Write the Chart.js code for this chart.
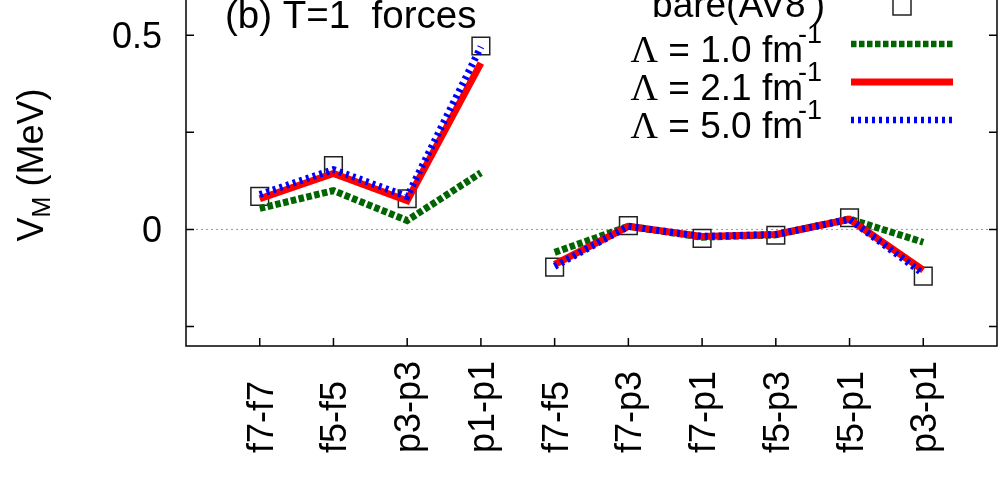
<!DOCTYPE html>
<html>
<head>
<meta charset="utf-8">
<script src="https://cdn.jsdelivr.net/npm/chart.js@4/dist/chart.umd.min.js"></script>
<style>
html, body { margin: 0; padding: 0; background: #fff; overflow: hidden; }
/* the figure is cropped at the top, so the canvas is shifted up */
#wrap { position: absolute; left: 0; top: -80px; width: 1000px; height: 566px; }
</style>
</head>
<body>
<div id="wrap"><canvas id="chart" width="1000" height="566"></canvas></div>
<script>
// ---- data ----
const categories = ['f7-f7', 'f5-f5', 'p3-p3', 'p1-p1', 'f7-f5', 'f7-p3', 'f7-p1', 'f5-p3', 'f5-p1', 'p3-p1'];
const bare  = [0.085, 0.164, 0.079, 0.472, -0.097, 0.010, -0.023, -0.015, 0.030, -0.120];
const lam10 = [0.054, 0.100, 0.023, 0.146, -0.059, 0.008, -0.020, -0.014, 0.027, -0.033];
const lam21 = [0.079, 0.144, 0.074, 0.428, -0.090, 0.008, -0.018, -0.013, 0.026, -0.105];
const lam50 = [0.090, 0.154, 0.085, 0.470, -0.095, 0.008, -0.018, -0.013, 0.026, -0.114];
const groupBreak = 3;            // no line between p1-p1 and f7-f5
const yLabelValues = [0, 0.5];   // labelled y ticks
const yLabelText = ['0', '0.5'];
const legendLabels = ["bare(AV8')", 'Λ = 1.0 fm', 'Λ = 2.1 fm', 'Λ = 5.0 fm'];
const legendSup = ['', '-1', '-1', '-1'];
const titleText = '(b) T=1  forces';

const SANS = '"Liberation Sans", Arial, sans-serif';
const SERIF = '"Liberation Serif", "Times New Roman", serif';
const OFF = 80; // canvas offset above the visible picture
const AREA = { left: 186, right: 997, top: 18, bottom: 426 }; // plot box (canvas px)

const pts = arr => arr.map((v, i) => ({ x: i, y: v }));
const hideBreak = { borderColor: c => c.p0DataIndex === groupBreak ? 'rgba(0,0,0,0)' : undefined };

// legend samples (drawn by plugin)
const legendStyles = [
    { type: 'box' },
    { color: '#006400', width: 6.5, dash: [5.5, 2.5] },
    { color: '#ff0000', width: 7, dash: [] },
    { color: '#0000ff', width: 6.5, dash: [3, 4] }
];
const legendBase = [17, 62, 100, 138];

const decor = {
    id: 'decor',
    beforeDatasetsDraw(chart) {
        const { ctx, chartArea: a, scales: { y } } = chart;
        const y0 = y.getPixelForValue(0);
        ctx.save();
        ctx.strokeStyle = '#999';
        ctx.lineWidth = 1;
        ctx.setLineDash([2, 3]);
        ctx.beginPath(); ctx.moveTo(a.left, y0); ctx.lineTo(a.right, y0); ctx.stroke();
        ctx.restore();
    },
    afterDatasetsDraw(chart) {
        const { ctx, chartArea: a, scales: { x, y } } = chart;
        ctx.save();
        ctx.strokeStyle = '#000';
        ctx.lineWidth = 1.5;
        ctx.strokeRect(a.left, a.top, a.right - a.left, a.bottom - a.top);

        // inward ticks
        ctx.beginPath();
        y.ticks.forEach(t => {
            const q = t.value / 0.25;
            if (Math.abs(q - Math.round(q)) > 1e-6) return;
            const py = y.getPixelForValue(t.value);
            ctx.moveTo(a.left, py); ctx.lineTo(a.left + 8, py);
            ctx.moveTo(a.right, py); ctx.lineTo(a.right - 8, py);
        });
        categories.forEach((c, i) => {
            const px = x.getPixelForValue(i);
            ctx.moveTo(px, a.bottom); ctx.lineTo(px, a.bottom - 8);
            ctx.moveTo(px, a.top); ctx.lineTo(px, a.top + 8);
        });
        ctx.stroke();

        ctx.fillStyle = '#000';
        ctx.textBaseline = 'alphabetic';

        // y tick labels
        ctx.font = '36px ' + SANS;
        ctx.textAlign = 'right';
        yLabelValues.forEach((v, i) => {
            ctx.fillText(yLabelText[i], a.left - 24, y.getPixelForValue(v) + 13);
        });

        // category labels, rotated
        ctx.textAlign = 'left';
        categories.forEach((c, i) => {
            const px = x.getPixelForValue(i);
            ctx.save();
            ctx.translate(px + 13, a.bottom + 107);
            ctx.rotate(-Math.PI / 2);
            ctx.fillText(c, 0, 0);
            ctx.restore();
        });

        // y title V_M (MeV)
        ctx.save();
        ctx.font = '36px ' + SANS;
        const wV = ctx.measureText('V').width;
        const wRest = ctx.measureText(' (MeV)').width;
        ctx.font = '25px ' + SANS;
        const wM = ctx.measureText('M').width;
        const total = wV + wM + wRest;
        ctx.translate(43, OFF + 165 + total / 2);
        ctx.rotate(-Math.PI / 2);
        ctx.font = '36px ' + SANS;
        ctx.fillText('V', 0, 0);
        ctx.font = '25px ' + SANS;
        ctx.fillText('M', wV, 7);
        ctx.font = '36px ' + SANS;
        ctx.fillText(' (MeV)', wV + wM, 0);
        ctx.restore();

        // title
        ctx.font = '38.5px ' + SANS;
        ctx.fillText(titleText, 225, OFF + 28);

        // legend
        legendLabels.forEach((lab, i) => {
            const base = OFF + legendBase[i];
            let right = 825;
            if (legendSup[i]) {
                ctx.font = '27px ' + SANS;
                ctx.textAlign = 'right';
                ctx.fillText(legendSup[i], 822, base - 19);
                right = 803;
            }
            ctx.textAlign = 'left';
            let parts;
            if (lab.startsWith('Λ')) {
                parts = [{ t: 'Λ', f: '38px ' + SERIF }, { t: lab.slice(1), f: '37px ' + SANS }];
            } else {
                parts = [{ t: lab, f: '37px ' + SANS }];
            }
            let w = 0;
            parts.forEach(p => { ctx.font = p.f; w += ctx.measureText(p.t).width; });
            let cx = right - w;
            parts.forEach(p => { ctx.font = p.f; ctx.fillText(p.t, cx, base); cx += ctx.measureText(p.t).width; });

            const st = legendStyles[i];
            const sy = base - 18;
            if (st.type === 'box') {
                ctx.lineWidth = 1.5;
                ctx.strokeStyle = '#222';
                ctx.setLineDash([]);
                ctx.strokeRect(893, OFF + 6 - 9, 18, 18);
            } else {
                ctx.lineWidth = st.width;
                ctx.strokeStyle = st.color;
                ctx.setLineDash(st.dash);
                ctx.beginPath(); ctx.moveTo(851, sy); ctx.lineTo(953, sy); ctx.stroke();
            }
        });
        ctx.restore();
    }
};

const lineDs = (label, data, color, dash, order) => ({
    label: label,
    data: pts(data),
    borderColor: color,
    borderWidth: 7,
    borderDash: dash,
    pointRadius: 0,
    fill: false,
    tension: 0,
    segment: hideBreak,
    order: order
});

new Chart(document.getElementById('chart'), {
    type: 'line',
    data: {
        datasets: [
            {
                label: legendLabels[0],
                data: pts(bare),
                showLine: false,
                pointStyle: 'rect',
                pointRadius: 12.5,
                pointBorderWidth: 1.5,
                pointBorderColor: '#222',
                pointBackgroundColor: 'rgba(0,0,0,0)',
                order: 4
            },
            lineDs(legendLabels[1], lam10, '#006400', [5.5, 2.5], 3),
            lineDs(legendLabels[2], lam21, '#ff0000', [], 2),
            lineDs(legendLabels[3], lam50, '#0000ff', [3, 4], 1)
        ]
    },
    options: {
        responsive: false,
        animation: false,
        devicePixelRatio: 1,
        events: [],
        layout: {
            autoPadding: false,
            padding: { top: AREA.top, right: 1000 - AREA.right, left: 0, bottom: 0 }
        },
        plugins: { legend: { display: false }, tooltip: { enabled: false } },
        scales: {
            x: {
                type: 'linear',
                min: -1,
                max: 10,
                ticks: { display: false },
                grid: { display: false, drawTicks: false },
                border: { display: false },
                afterFit: s => { s.height = 566 - AREA.bottom; }
            },
            y: {
                min: -0.3,
                max: 0.75,
                ticks: { display: false, stepSize: 0.25 },
                grid: { display: false, drawTicks: false },
                border: { display: false },
                afterFit: s => { s.width = AREA.left; }
            }
        }
    },
    plugins: [decor]
});
</script>
</body>
</html>
